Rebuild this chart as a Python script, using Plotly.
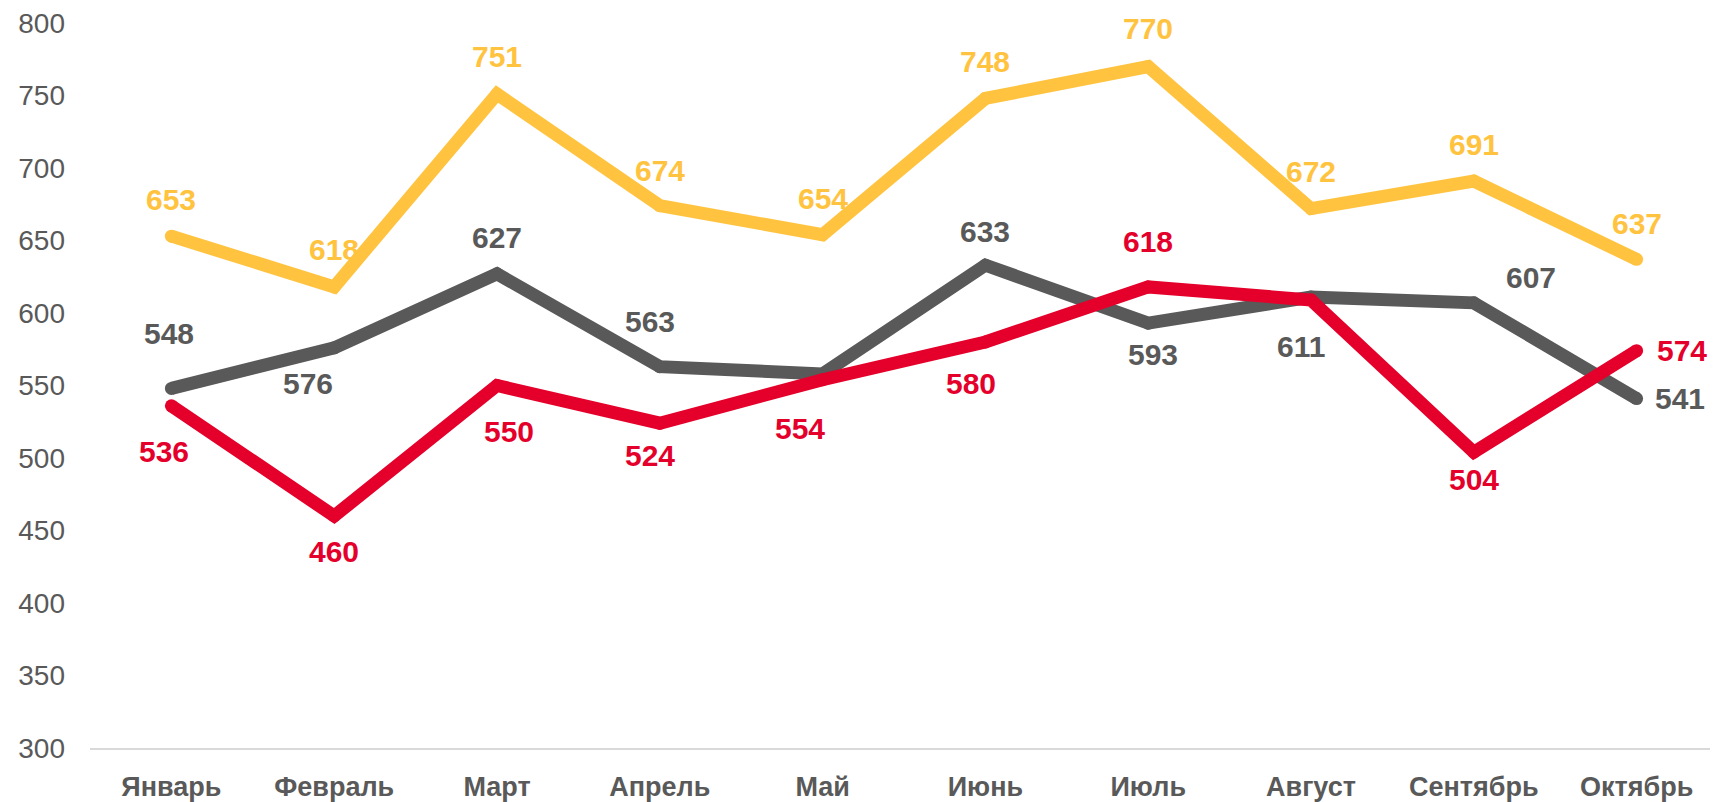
import plotly.graph_objects as go

months = ["Январь", "Февраль", "Март", "Апрель", "Май", "Июнь", "Июль", "Август", "Сентябрь", "Октябрь"]
yellow_vals = [653, 618, 751, 674, 654, 748, 770, 672, 691, 637]
gray_vals = [548, 576, 627, 563, 558, 633, 593, 611, 607, 541]
red_vals = [536, 460, 550, 524, 554, 580, 618, 609, 504, 574]

# which points carry a value label
yellow_show = [True] * 10
gray_show = [True, True, True, True, False, True, True, True, True, True]
red_show = [True, True, True, True, True, True, True, False, True, True]

# label offsets (pixels) relative to each point: (xshift, yshift), yshift positive = up
yellow_off = [(0, 37), (0, 37), (0, 38), (0, 35), (0, 36), (0, 37), (0, 38), (0, 37), (0, 37), (0, 36)]
gray_off = [(-2, 55), (-26, -36), (0, 36), (-10, 45), (0, 0), (0, 34), (5, -31), (-10, -49), (57, 25), (43, 0)]
red_off = [(-7, -46), (0, -35), (12, -46), (-10, -32), (-23, -49), (-14, -41), (0, 45), (0, 0), (0, -27), (45, 0)]

YELLOW = "#FFC340"
GRAY = "#595959"
RED = "#E4002B"
FONT = "Liberation Sans, Arial, sans-serif"
LW = 13

fig = go.Figure()
annotations = []

def add(vals, show, offs, color):
    fig.add_trace(go.Scatter(
        x=months, y=vals, mode="lines+markers",
        line=dict(color=color, width=LW),
        marker=dict(size=LW, color=color, line=dict(width=0)),
        cliponaxis=False, hoverinfo="x+y", showlegend=False,
    ))
    for m, v, s, (dx, dy) in zip(months, vals, show, offs):
        if s:
            annotations.append(dict(
                x=m, y=v, xref="x", yref="y", text=str(v), showarrow=False,
                xshift=dx, yshift=dy, xanchor="center", yanchor="middle",
                font=dict(family=FONT, size=30, color=color, weight="bold"),
            ))

add(gray_vals, gray_show, gray_off, GRAY)
add(red_vals, red_show, red_off, RED)
add(yellow_vals, yellow_show, yellow_off, YELLOW)

fig.update_layout(
    width=1710, height=794,
    margin=dict(l=82, r=0, t=14, b=50),
    paper_bgcolor="white", plot_bgcolor="white",
    font=dict(family=FONT, color=GRAY),
    annotations=annotations,
    xaxis=dict(range=[-0.5, 9.5], showgrid=False, showline=True, linecolor="#D9D9D9", linewidth=2,
               ticks="", tickfont=dict(family=FONT, size=27, color=GRAY, weight="bold"),
               ticklabelstandoff=14, zeroline=False),
    yaxis=dict(range=[300, 800], dtick=50, showgrid=False, showline=False, zeroline=False,
               ticks="", tickfont=dict(family=FONT, size=28, color=GRAY), ticklabelstandoff=24,
               ticklabeloverflow="allow"),
)

fig.write_html("out.html")
